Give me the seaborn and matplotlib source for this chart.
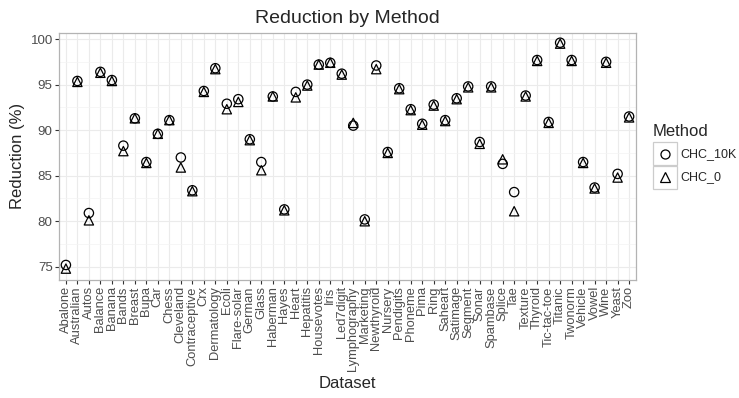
import matplotlib
matplotlib.use('Agg')
import matplotlib.pyplot as plt
from matplotlib.lines import Line2D
from matplotlib.patches import Rectangle
from matplotlib.ticker import MultipleLocator
import pandas as pd
import seaborn as sns

datasets = ['Abalone', 'Australian', 'Autos', 'Balance', 'Banana', 'Bands', 'Breast', 'Bupa', 'Car',
            'Chess', 'Cleveland', 'Contraceptive', 'Crx', 'Dermatology', 'Ecoli', 'Flare-solar', 'German',
            'Glass', 'Haberman', 'Hayes', 'Heart', 'Hepatitis', 'Housevotes', 'Iris', 'Led7digit',
            'Lymphography', 'Marketing', 'Newthyroid', 'Nursery', 'Pendigits', 'Phoneme', 'Pima', 'Ring',
            'Saheart', 'Satimage', 'Segment', 'Sonar', 'Spambase', 'Splice', 'Tae', 'Texture', 'Thyroid',
            'Tic-tac-toe', 'Titanic', 'Twonorm', 'Vehicle', 'Vowel', 'Wine', 'Yeast', 'Zoo']

chc_10k = [75.2, 95.4, 80.9, 96.4, 95.5, 88.3, 91.3, 86.5, 89.6,
           91.1, 87.0, 83.4, 94.3, 96.8, 92.9, 93.4, 89.0,
           86.5, 93.7, 81.3, 94.2, 95.0, 97.2, 97.4, 96.2,
           90.5, 80.2, 97.1, 87.6, 94.6, 92.3, 90.7, 92.8,
           91.1, 93.5, 94.8, 88.7, 94.8, 86.3, 83.2, 93.8, 97.7,
           90.9, 99.6, 97.7, 86.5, 83.7, 97.5, 85.2, 91.5]

chc_0 = [74.8, 95.3, 80.1, 96.3, 95.4, 87.7, 91.3, 86.4, 89.6,
         91.1, 85.9, 83.3, 94.2, 96.7, 92.3, 93.1, 88.9,
         85.6, 93.7, 81.2, 93.6, 94.9, 97.2, 97.4, 96.1,
         90.8, 80.0, 96.7, 87.5, 94.5, 92.2, 90.6, 92.7,
         91.0, 93.4, 94.7, 88.5, 94.7, 86.8, 81.1, 93.7, 97.6,
         90.8, 99.5, 97.6, 86.4, 83.6, 97.4, 84.8, 91.4]

methods = ['CHC_10K', 'CHC_0']

df = pd.DataFrame({
    'Dataset': datasets * 2,
    'Reduction': chc_10k + chc_0,
    'Method': [methods[0]] * len(datasets) + [methods[1]] * len(datasets),
})

sns.set_theme(style='whitegrid')
plt.rcParams['font.family'] = ['Liberation Sans', 'DejaVu Sans']

W, H = 739, 398
fig = plt.figure(figsize=(W / 100, H / 100), dpi=100)
# panel in pixels: x 59..636, y 32.7..280
ax = fig.add_axes([59 / W, (H - 280) / H, (636 - 59) / W, (280 - 32.7) / H])

sns.scatterplot(data=df, x='Dataset', y='Reduction', style='Method',
                markers={'CHC_10K': 'o', 'CHC_0': '^'}, s=45, color='black',
                linewidth=0.9, legend=False, ax=ax, zorder=3)
for coll in ax.collections:
    coll.set_facecolor('none')
    coll.set_edgecolor('black')

ax.set_xlim(-0.6, len(datasets) - 0.4)
ax.set_ylim(73.55, 100.7)
ax.yaxis.set_major_locator(MultipleLocator(5))
ax.yaxis.set_minor_locator(MultipleLocator(2.5))
ax.grid(which='major', color='#EBEBEB', linewidth=0.8)
ax.grid(which='minor', axis='y', color='#F3F3F3', linewidth=0.5)
for sp in ax.spines.values():
    sp.set_color('#B3B3B3')
    sp.set_linewidth(0.9)

ax.tick_params(axis='x', rotation=90, labelsize=9.3, length=3, width=0.8, pad=1.5, color='#333333')
ax.tick_params(axis='y', labelsize=9.6, length=3, width=0.8, pad=1.5, color='#333333')
ax.tick_params(which='both', bottom=True, left=True)
ax.tick_params(which='minor', left=False)
for lbl in ax.get_xticklabels() + ax.get_yticklabels():
    lbl.set_color('#4D4D4D')

ax.set_xlabel('Dataset', fontsize=12, labelpad=4)
ax.set_ylabel('Reduction (%)', fontsize=12, labelpad=4)
ax.set_title('Reduction by Method', fontsize=14, pad=7)

# legend drawn ggplot-style: title, boxed keys, labels
fig.text(653 / W, 1 - 131.5 / H, 'Method', fontsize=12, va='center', ha='left')
key_shapes = ['o', '^']
for i, (m, shp) in enumerate(zip(methods, key_shapes)):
    top = 142 + i * 23.5
    fig.add_artist(Rectangle((653 / W, 1 - (top + 23.5) / H), 23.5 / W, 23.5 / H,
                             transform=fig.transFigure, facecolor='white',
                             edgecolor='#CCCCCC', linewidth=0.9))
    fig.add_artist(Line2D([665 / W], [1 - (top + 11.75) / H], transform=fig.transFigure,
                          marker=shp, linestyle='none', markerfacecolor='none',
                          markeredgecolor='black', markersize=6.5, markeredgewidth=0.9))
    fig.text(680 / W, 1 - (top + 11.75) / H, m, fontsize=9, va='center', ha='left')

fig.savefig('out.png', dpi=100)
